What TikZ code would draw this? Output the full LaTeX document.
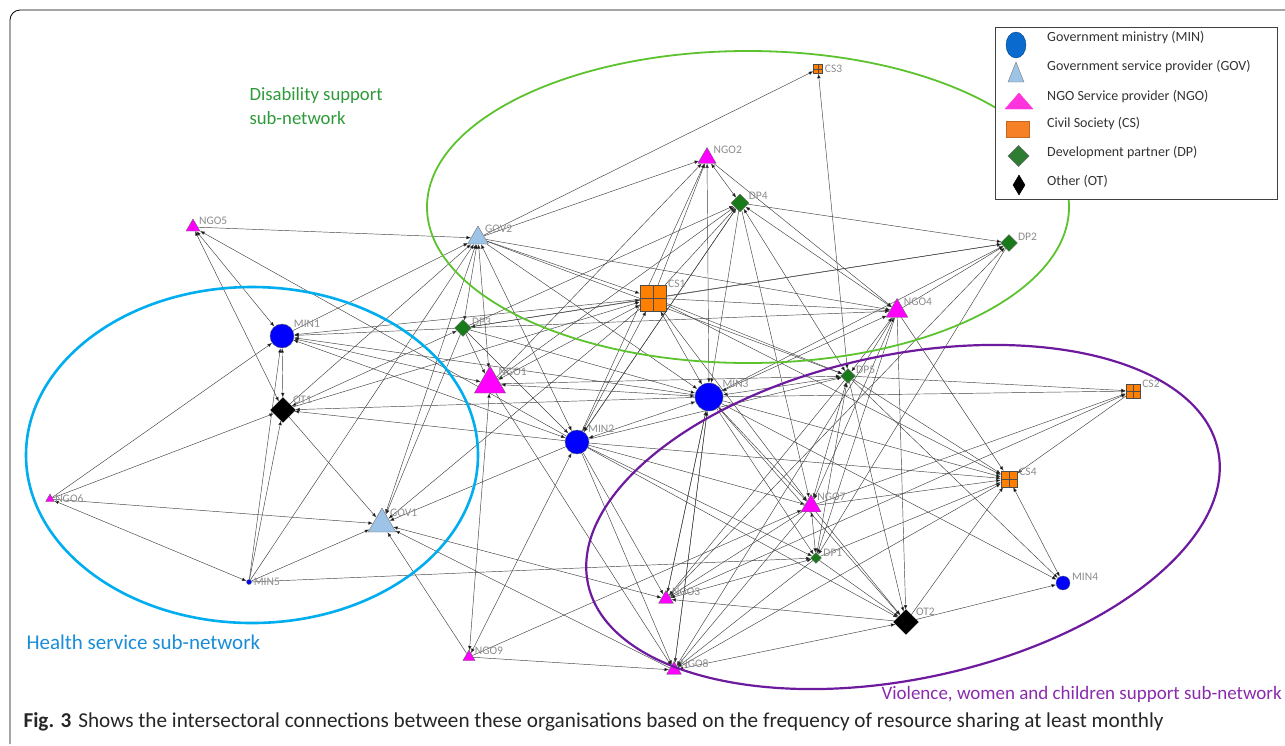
\documentclass[tikz,border=0pt]{standalone}
\usepackage{fontspec}
\setmainfont{Carlito}
\usetikzlibrary{shapes.geometric,arrows.meta,positioning}
\pgfdeclarelayer{edges}
\pgfsetlayers{edges,main}
\definecolor{minblue}{HTML}{0000FF}
\definecolor{govblue}{HTML}{9DC3E6}
\definecolor{ngopink}{HTML}{FF00FF}
\definecolor{csorange}{HTML}{FF8000}
\definecolor{dpgreen}{HTML}{187A18}
\definecolor{ringgreen}{HTML}{5CC22E}
\definecolor{ringblue}{HTML}{00ADEF}
\definecolor{ringpurple}{HTML}{6E1A9E}
\definecolor{txtgreen}{HTML}{2F9A3A}
\definecolor{txtblue}{HTML}{1A8CD8}
\definecolor{txtpurple}{HTML}{8A2BAE}
\definecolor{legblue}{HTML}{0A6ACD}
\definecolor{legpink}{HTML}{FF33DD}
\definecolor{legorange}{HTML}{F58025}
\definecolor{leggreen}{HTML}{2E7D32}
\tikzset{
    >={Latex[length=4.5pt,width=3.5pt]},
    label distance=1.5pt,
    link/.style={->, draw=black!75, line width=0.45pt},
    mutual/.style={<->, draw=black!75, line width=0.45pt},
    lbl/.style={font=\fontsize{11.5}{11.5}\selectfont, text=black!45, inner sep=0.5pt},
    legtxt/.style={font=\fontsize{14}{14}\selectfont, text=black!80, anchor=west, inner sep=0pt},
    ministry/.style={circle, draw=black!60, fill=minblue, inner sep=0pt, minimum size=#1},
    govt/.style={regular polygon, regular polygon sides=3, draw=black!55, fill=govblue, inner sep=0pt, minimum size=#1},
    ngo/.style={regular polygon, regular polygon sides=3, draw=black!60, fill=ngopink, inner sep=0pt, minimum size=#1},
    civil/.style={rectangle, draw=black!70, fill=csorange, inner sep=0pt, minimum size=#1,
        path picture={\draw[black!70] (path picture bounding box.north) -- (path picture bounding box.south)
            (path picture bounding box.west) -- (path picture bounding box.east);}},
    devp/.style={diamond, draw=black!60, fill=dpgreen, inner sep=0pt, minimum size=#1},
    other/.style={diamond, draw=black, fill=black, inner sep=0pt, minimum size=#1}
}

\begin{document}
\begin{tikzpicture}[x=1pt, y=-1pt]
    \useasboundingbox (0,0) rectangle (1285,745);
    \draw[rounded corners=10pt, line width=0.8pt] (10,744) -- (10,10) -- (1300,10);

    % organisations
    \node[ngo=16, label={[lbl]20:NGO5}] (ngo5) at (193,227) {};
    \node[govt=24, label={[lbl]35:GOV2}] (gov2) at (478,238) {};
    \node[civil=9, label={[lbl]0:CS3}] (cs3) at (818,69) {};
    \node[ngo=21, label={[lbl]30:NGO2}] (ngo2) at (707,158) {};
    \node[devp=18, label={[lbl]20:DP4}] (dp4) at (740,203) {};
    \node[devp=17, label={[lbl]15:DP2}] (dp2) at (1009,243) {};
    \node[civil=26, label={[lbl]35:CS1}] (cs1) at (653,298) {};
    \node[ngo=25, label={[lbl]40:NGO4}] (ngo4) at (897,311) {};
    \node[devp=17, label={[lbl]15:DP3}] (dp3) at (463,328) {};
    \node[ministry=24, label={[lbl]35:MIN1}] (min1) at (282,336) {};
    \node[ngo=36, label={[lbl]45:NGO1}] (ngo1) at (490,384) {};
    \node[ministry=28, label={[lbl]35:MIN3}] (min3) at (709,397) {};
    \node[devp=15, label={[lbl]15:DP5}] (dp5) at (848,376) {};
    \node[civil=14, label={[lbl]15:CS2}] (cs2) at (1133,391) {};
    \node[other=25, label={[lbl]30:OT1}] (ot1) at (283,410) {};
    \node[ministry=24, label={[lbl]40:MIN2}] (min2) at (577,442) {};
    \node[ngo=10, label={[lbl]0:NGO6}] (ngo6) at (50,499) {};
    \node[govt=32, label={[lbl]40:GOV1}] (gov1) at (382,524) {};
    \node[civil=16, label={[lbl]15:CS4}] (cs4) at (1009,479) {};
    \node[ngo=23, label={[lbl]40:NGO7}] (ngo7) at (811,506) {};
    \node[devp=11, label={[lbl]5:DP1}] (dp1) at (816,558) {};
    \node[ministry=5, label={[lbl]0:MIN5}] (min5) at (249,582) {};
    \node[ngo=17, label={[lbl]25:NGO3}] (ngo3) at (666,599) {};
    \node[ministry=14, label={[lbl]15:MIN4}] (min4) at (1063,583) {};
    \node[other=25, label={[lbl]30:OT2}] (ot2) at (906,622) {};
    \node[ngo=14, label={[lbl]15:NGO9}] (ngo9) at (469,657) {};
    \node[ngo=17, label={[lbl]20:NGO8}] (ngo8) at (674,670) {};

    % resource sharing at least monthly
    \begin{pgfonlayer}{edges}
    \path[mutual] (ngo5) edge (min1) edge (ot1);
    \path[mutual] (gov2) edge (dp3) edge (gov1) edge (min2) edge (ngo1);
    \path[mutual] (cs1) edge (dp3) edge (ngo1) edge (min2) edge (min3);
    \path[mutual] (min1) edge (ot1) edge (ngo1) edge (min2);
    \path[mutual] (ot1) edge (dp3);
    \path[mutual] (min5) edge (ngo6);
    \path[mutual] (ngo9) edge (ngo1) edge (min2);
    \path[mutual] (ngo8) edge (ot2);
    \path[mutual] (dp4) edge (ngo2) edge (ngo4) edge (dp5);
    \path[mutual] (cs3) edge (dp5);
    \path[mutual] (min3) edge (ngo2) edge (ngo1) edge (min2) edge (dp5) edge (ngo4) edge (ngo7);
    \path[mutual] (dp5) edge (ngo4) edge (ngo7) edge (dp1);
    \path[mutual] (ngo7) edge (dp1) edge (ngo4);
    \path[mutual] (dp1) edge (ngo3);
    \path[mutual] (cs4) edge (min4);
    \path[mutual] (gov1) edge (ngo3);
    \path[link] (ngo5) edge (gov2);
    \path[link] (gov2) edge (cs3) edge (ngo2) edge (cs1) edge (min3) edge (ngo4) edge (dp5);
    \path[link] (min1) edge (gov2);
    \path[link] (ot1) edge (gov2) edge (cs1) edge (gov1);
    \path[link] (ngo6) edge (min1) edge (ot1) edge (gov1);
    \path[link] (min5) edge (ot1) edge (min1) edge (gov1) edge (gov2) edge (dp1);
    \path[link] (dp3) edge (min1) edge (ngo1) edge (min2) edge (gov1) edge (min3) edge (ngo4) edge (dp4) edge (dp2);
    \path[link] (cs1) edge (min1) edge (ngo2) edge (dp4) edge (ngo4) edge (dp5) edge (gov1) edge (ngo7) edge (cs4) edge (dp2);
    \path[link] (ngo1) edge (ngo2) edge (dp4) edge (dp5) edge (ngo8);
    \path[link] (min2) edge (ngo5) edge (ot1) edge (gov1) edge (dp4) edge (ngo2) edge (ngo7) edge (dp1) edge (ngo3) edge (ngo8) edge (ot2) edge (cs4) edge (dp5);
    \path[link] (min3) edge (min1) edge (ot1) edge (cs2) edge (dp1) edge (ot2) edge (ngo3) edge (ngo8) edge (min4) edge (dp2) edge (cs4);
    \path[link] (dp4) edge (min3) edge (dp2) edge (ngo7) edge (min2);
    \path[link] (ngo2) edge (ngo4);
    \path[link] (ngo4) edge (dp2) edge (dp1) edge (ngo8) edge (cs4) edge (ot2);
    \path[link] (dp5) edge (cs2) edge (cs4) edge (ot2) edge (min4) edge (ngo3);
    \path[link] (ngo7) edge (cs4) edge (cs2) edge (ot2) edge (ngo3) edge (ngo8);
    \path[link] (dp1) edge (cs4) edge (ot2) edge (ngo8);
    \path[link] (ngo3) edge (dp2) edge (cs2) edge (min3);
    \path[link] (ot2) edge (ngo3) edge (min4) edge (cs4);
    \path[link] (ngo8) edge (gov1) edge (cs4) edge (min3);
    \path[link] (ngo9) edge (gov1) edge (ngo8) edge (ngo7);
    \path[link] (cs2) edge (cs4);
    \path[link] (dp2) edge (dp1);
    \end{pgfonlayer}

    % sub-networks
    \draw[ringgreen, line width=1.8pt] (748,207) ellipse [x radius=321, y radius=156];
    \draw[ringblue, line width=2.6pt] (252,455) ellipse [x radius=226, y radius=168];
    \draw[ringpurple, line width=2.2pt, rotate around={12:(903,517)}] (903,517) ellipse [x radius=322, y radius=162];
    \node[font=\fontsize{18.7}{24}\selectfont, text=txtgreen, align=left, anchor=north west] (disab) at (246,84) {Disability support\\sub-network};
    \node[font=\fontsize{21}{21}\selectfont, text=txtblue, anchor=west] (health) at (23,642) {Health service sub-network};
    \node[font=\fontsize{19}{19}\selectfont, text=txtpurple, anchor=west] (violence) at (878,694) {Violence, women and children support sub-network};

    % legend
    \draw[fill=white, draw=black!75, line width=1pt] (995,27) rectangle (1277,199);
    \filldraw[fill=legblue, draw=legblue!70!black] (1016,45) ellipse [x radius=10, y radius=13];
    \filldraw[fill=govblue, draw=black!50] (1008,82) -- (1024,82) -- (1016,62) -- cycle;
    \filldraw[fill=legpink, draw=legpink] (1005,109) -- (1033,109) -- (1019,93) -- cycle;
    \filldraw[fill=legorange, draw=legorange!80!black] (1006,121) rectangle (1029,137);
    \filldraw[fill=leggreen, draw=black!60] (1008,156) -- (1018.5,145.5) -- (1029,156) -- (1018.5,166.5) -- cycle;
    \filldraw[fill=black] (1013,185) -- (1019,175) -- (1025,185) -- (1019,195) -- cycle;
    \node[legtxt] (lmin) at (1047,38) {Government ministry (MIN)};
    \node[legtxt] (lgov) at (1047,67) {Government service provider (GOV)};
    \node[legtxt] (lngo) at (1047,97) {NGO Service provider (NGO)};
    \node[legtxt] (lcs) at (1047,124) {Civil Society (CS)};
    \node[legtxt] (ldp) at (1047,153) {Development partner (DP)};
    \node[legtxt] (lot) at (1047,181) {Other (OT)};

    \node[font=\fontsize{21.2}{21.2}\selectfont, text=black!85, anchor=west] (caption) at (20,722)
        {\textbf{Fig. 3}\hspace{7pt}Shows the intersectoral connections between these organisations based on the frequency of resource sharing at least monthly};
\end{tikzpicture}
\end{document}
